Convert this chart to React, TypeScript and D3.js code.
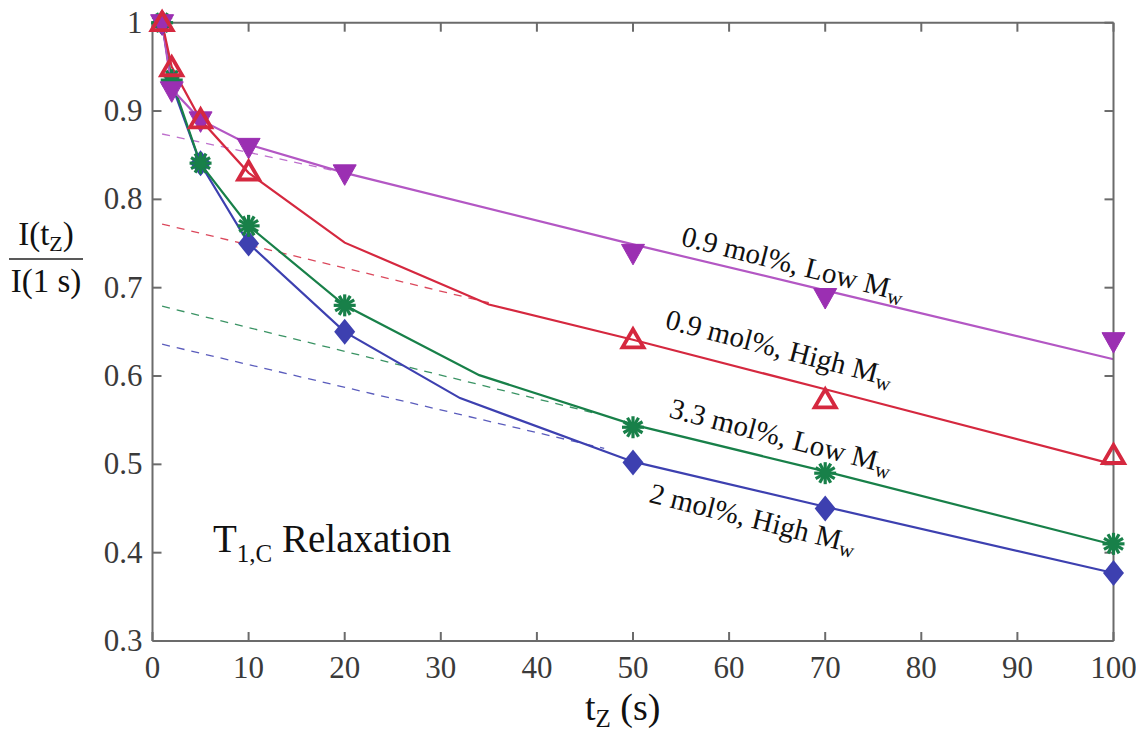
import React from "react";
import * as d3 from "d3";

const W = 1136;
const H = 733;

// tick values / labels
const xTicks = [0, 10, 20, 30, 40, 50, 60, 70, 80, 90, 100];
const yTicks = [0.3, 0.4, 0.5, 0.6, 0.7, 0.8, 0.9, 1.0];
const yTickLabels = ["0.3", "0.4", "0.5", "0.6", "0.7", "0.8", "0.9", "1"];

// measured points (markers)
const purpleX = [1, 2, 5, 10, 20, 50, 70, 100];
const purpleY = [1.0, 0.924, 0.89, 0.86, 0.83, 0.74, 0.69, 0.64];
const redX = [1, 2, 5, 10, 50, 70, 100];
const redY = [1.0, 0.949, 0.89, 0.831, 0.641, 0.573, 0.51];
const greenX = [1, 2, 5, 10, 20, 50, 70, 100];
const greenY = [1.0, 0.935, 0.841, 0.77, 0.68, 0.542, 0.49, 0.41];
const blueX = [1, 2, 5, 10, 20, 50, 70, 100];
const blueY = [1.0, 0.932, 0.841, 0.75, 0.65, 0.502, 0.45, 0.377];

// fitted curves (solid)
const purpleFitX = [1, 2, 5, 10, 20, 50, 70, 100];
const purpleFitY = [1.0, 0.925, 0.89, 0.862, 0.83, 0.749, 0.697, 0.619];
const redFitX = [1, 2, 5, 10, 20, 35, 50, 70, 100];
const redFitY = [1.0, 0.95, 0.89, 0.83, 0.751, 0.681, 0.641, 0.585, 0.5];
const greenFitX = [1, 2, 5, 10, 20, 34, 50, 70, 100];
const greenFitY = [1.0, 0.935, 0.84, 0.77, 0.68, 0.601, 0.545, 0.492, 0.409];
const blueFitX = [1, 2, 5, 10, 20, 32, 50, 70, 100];
const blueFitY = [1.0, 0.93, 0.84, 0.75, 0.65, 0.575, 0.503, 0.452, 0.377];

// long-component extrapolations (dashed)
const purpleDashX = [1, 20];
const purpleDashY = [0.874, 0.83];
const redDashX = [1, 35];
const redDashY = [0.772, 0.683];
const greenDashX = [1, 46];
const greenDashY = [0.679, 0.558];
const blueDashX = [1, 47];
const blueDashY = [0.636, 0.518];

const PURPLE = "#b357c4";
const PURPLE_M = "#9b2fb2";
const RED = "#d5283f";
const GREEN = "#188049";
const BLUE = "#3d40b0";

const FONT = "Liberation Serif, Tinos, Times New Roman, DejaVu Serif, serif";

const x = d3.scaleLinear().domain([0, 100]).range([152.5, 1113.5]);
const y = d3.scaleLinear().domain([0.3, 1]).range([641, 22.7]);

const line = d3
  .line<[number, number]>()
  .x((d) => x(d[0]))
  .y((d) => y(d[1]));

const zip = (a: number[], b: number[]) => a.map((v, i) => [v, b[i]] as [number, number]);

function Marker({ kind, cx, cy, color }: { kind: string; cx: number; cy: number; color: string }) {
  if (kind === "down") {
    return (
      <polygon
        points={`${cx - 11.5},${cy - 8} ${cx + 11.5},${cy - 8} ${cx},${cy + 12.5}`}
        fill={color}
        stroke={color}
        strokeWidth={1}
      />
    );
  }
  if (kind === "up") {
    return (
      <polygon
        points={`${cx},${cy - 10.5} ${cx - 10.5},${cy + 7.5} ${cx + 10.5},${cy + 7.5}`}
        fill="none"
        stroke={color}
        strokeWidth={3.8}
        strokeLinejoin="miter"
      />
    );
  }
  if (kind === "diamond") {
    return (
      <polygon
        points={`${cx},${cy - 13} ${cx + 10.5},${cy} ${cx},${cy + 13} ${cx - 10.5},${cy}`}
        fill={color}
      />
    );
  }
  // asterisk
  const r = 11;
  const angles = [0, 30, 60, 90, 120, 150];
  return (
    <g>
      {angles.map((a) => {
        const rad = (a * Math.PI) / 180;
        return (
          <line
            key={a}
            x1={cx - r * Math.cos(rad)}
            y1={cy - r * Math.sin(rad)}
            x2={cx + r * Math.cos(rad)}
            y2={cy + r * Math.sin(rad)}
            stroke={color}
            strokeWidth={3.2}
          />
        );
      })}
      <circle cx={cx} cy={cy} r={5.5} fill={color} />
    </g>
  );
}

function RotLabel({
  px,
  py,
  angle,
  main,
}: {
  px: number;
  py: number;
  angle: number;
  main: string;
}) {
  return (
    <text
      transform={`translate(${px},${py}) rotate(${angle})`}
      fontFamily={FONT}
      fontSize={29}
      fill="#111"
    >
      {main}
      <tspan>M</tspan>
      <tspan fontSize={21} dy={5}>
        w
      </tspan>
    </text>
  );
}

export default function App() {
  const series = [
    { fx: blueFitX, fy: blueFitY, dx: blueDashX, dy: blueDashY, mx: blueX, my: blueY, c: BLUE, mc: BLUE, kind: "diamond" },
    { fx: greenFitX, fy: greenFitY, dx: greenDashX, dy: greenDashY, mx: greenX, my: greenY, c: GREEN, mc: GREEN, kind: "ast" },
    { fx: purpleFitX, fy: purpleFitY, dx: purpleDashX, dy: purpleDashY, mx: purpleX, my: purpleY, c: PURPLE, mc: PURPLE_M, kind: "down" },
    { fx: redFitX, fy: redFitY, dx: redDashX, dy: redDashY, mx: redX, my: redY, c: RED, mc: RED, kind: "up" },
  ];

  const [x0, x1] = x.range();
  const [y0, y1] = y.range(); // y0 bottom, y1 top
  const tickLen = 9;
  const axisColor = "#6b6b6b";

  const angleOf = (fx: number[], fy: number[]) => {
    const n = fx.length;
    const dxp = x(fx[n - 1]) - x(fx[n - 3]);
    const dyp = y(fy[n - 1]) - y(fy[n - 3]);
    return (Math.atan2(dyp, dxp) * 180) / Math.PI;
  };

  return (
    <svg
      width={W}
      height={H}
      style={{ position: "absolute", left: 0, top: 0, background: "#fff" }}
    >
      <rect x={0} y={0} width={W} height={H} fill="#fff" />

      {/* dashed extrapolations */}
      {series.map((s, i) => (
        <path
          key={"d" + i}
          d={line(zip(s.dx, s.dy)) || ""}
          fill="none"
          stroke={s.c}
          strokeWidth={1.3}
          strokeDasharray="8,7"
          opacity={0.85}
        />
      ))}

      {/* fitted lines */}
      {series.map((s, i) => (
        <path
          key={"f" + i}
          d={line(zip(s.fx, s.fy)) || ""}
          fill="none"
          stroke={s.c}
          strokeWidth={2.2}
        />
      ))}

      {/* axes box */}
      <g stroke={axisColor} strokeWidth={2} fill="none">
        <line x1={x0} y1={y0} x2={x1} y2={y0} />
        <line x1={x0} y1={y1} x2={x1} y2={y1} />
        <line x1={x0} y1={y0} x2={x0} y2={y1} />
        <line x1={x1} y1={y0} x2={x1} y2={y1} />
        {xTicks.map((t) => (
          <g key={"xt" + t}>
            <line x1={x(t)} y1={y0} x2={x(t)} y2={y0 - tickLen} />
            <line x1={x(t)} y1={y1} x2={x(t)} y2={y1 + tickLen} />
          </g>
        ))}
        {yTicks.map((t) => (
          <g key={"yt" + t}>
            <line x1={x0} y1={y(t)} x2={x0 + tickLen} y2={y(t)} />
            <line x1={x1} y1={y(t)} x2={x1 - tickLen} y2={y(t)} />
          </g>
        ))}
      </g>

      {/* markers */}
      {series.map((s, i) => (
        <g key={"m" + i}>
          {s.mx.map((v, j) => (
            <Marker key={j} kind={s.kind} cx={x(v)} cy={y(s.my[j])} color={s.mc} />
          ))}
        </g>
      ))}

      {/* tick labels */}
      <g fontFamily={FONT} fontSize={31} fill="#3a3a3a">
        {xTicks.map((t) => (
          <text key={"xl" + t} x={x(t)} y={y0 + 37} textAnchor="middle">
            {t}
          </text>
        ))}
        {yTicks.map((t, i) => (
          <text key={"yl" + t} x={x0 - 10} y={y(t) + 10} textAnchor="end">
            {yTickLabels[i]}
          </text>
        ))}
      </g>

      {/* x axis title */}
      <text x={585} y={720} fontFamily={FONT} fontSize={38} fill="#111">
        t
        <tspan fontSize={25} dy={7}>
          Z
        </tspan>
        <tspan dy={-7}> (s)</tspan>
      </text>

      {/* y axis title (fraction) */}
      <g fontFamily={FONT} fontSize={33} fill="#111">
        <text x={46} y={245} textAnchor="middle">
          I(t
          <tspan fontSize={22} dy={6}>
            Z
          </tspan>
          <tspan dy={-6}>)</tspan>
        </text>
        <line x1={9} y1={259} x2={83} y2={259} stroke="#222" strokeWidth={1.5} />
        <text x={46} y={292} textAnchor="middle">
          I(1 s)
        </text>
      </g>

      {/* T1,C relaxation */}
      <text x={213} y={552} fontFamily={FONT} fontSize={39} fill="#111">
        T
        <tspan fontSize={25} dy={10}>
          1,C
        </tspan>
        <tspan dy={-10}> Relaxation</tspan>
      </text>

      {/* series labels */}
      <RotLabel px={680} py={245} angle={angleOf(purpleFitX, purpleFitY) + 0.8} main="0.9 mol%, Low " />
      <RotLabel px={664} py={328} angle={angleOf(redFitX, redFitY)} main="0.9 mol%, High " />
      <RotLabel px={668} py={417} angle={angleOf(greenFitX, greenFitY) + 0.5} main="3.3 mol%, Low " />
      <RotLabel px={648} py={502} angle={angleOf(blueFitX, blueFitY) + 1} main="2 mol%, High " />
    </svg>
  );
}
